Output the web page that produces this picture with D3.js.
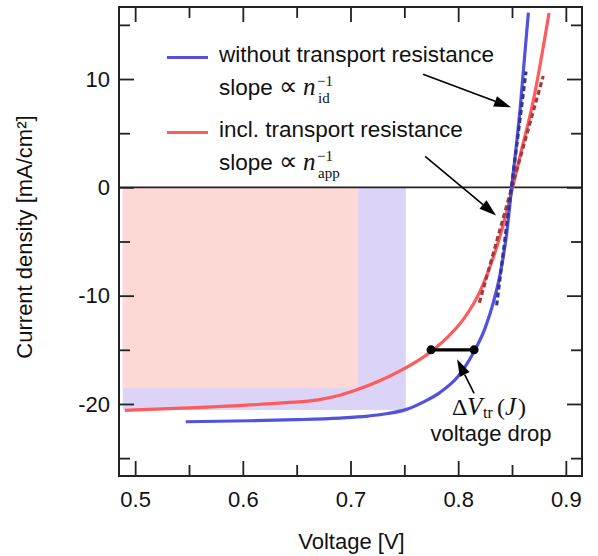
<!DOCTYPE html>
<html><head><meta charset="utf-8">
<script src="https://cdn.jsdelivr.net/npm/d3@7"></script>
<style>
html,body{margin:0;padding:0;background:#fff;}
text{font-family:"Liberation Sans",Arial,sans-serif;}
.math{font-family:"Liberation Serif","Times New Roman",serif;}
</style></head>
<body><svg id="chart" width="598" height="556"></svg>
<script>
// ---- data ----
const vMajorTicks = [0.5, 0.6, 0.7, 0.8, 0.9];
const vMinorTicks = [0.55, 0.65, 0.75, 0.85];
const jMajorTicks = [-20, -10, 0, 10];
const jMinorTicks = [-25, -15, -5, 5, 15];
const vTickLabels = ["0.5", "0.6", "0.7", "0.8", "0.9"];
const jTickLabels = ["-20", "-10", "0", "10"];

// J-V without transport resistance (V [V], J [mA/cm2])
const idealV = [0.547, 0.607, 0.650, 0.690, 0.716, 0.735, 0.752, 0.768, 0.783, 0.800, 0.814, 0.825, 0.833, 0.839, 0.845, 0.8497, 0.8575, 0.8652];
const idealJ = [-21.64, -21.55, -21.45, -21.3, -21.12, -20.88, -20.5, -19.8, -18.95, -17.45, -15.3, -13.0, -10.5, -8.0, -4.3, 0.0, 7.2, 16.13];
// J-V including transport resistance
const realV = [0.4904, 0.550, 0.600, 0.640, 0.670, 0.690, 0.707, 0.725, 0.746, 0.7755, 0.790, 0.8048, 0.8203, 0.8358, 0.845, 0.8506, 0.8575, 0.8698, 0.8844];
const realJ = [-20.59, -20.36, -20.13, -19.88, -19.62, -19.2, -18.65, -17.95, -16.95, -15.1, -13.85, -12.19, -9.6, -5.5, -2.3, 0.0, 2.9, 8.0, 16.1];
// slope guides at Voc (dotted)
const idealSlopeV = [0.8357, 0.863];
const idealSlopeJ = [-10.9, 10.7];
const realSlopeV = [0.8197, 0.879];
const realSlopeJ = [-10.65, 10.28];
// maximum power rectangles
const rectStartV = 0.4885;
const mppIdeal = [0.7514, -20.55];
const mppReal = [0.7071, -18.55];
// voltage drop at J = -15
const dropJ = -15;
const dropV = [0.7748, 0.8148];
// annotation arrows [tailV, tailJ, tipV, tipJ]
const arrow1 = [0.7674, 10.43, 0.8491, 7.39];
const arrow2 = [0.7693, 2.86, 0.8352, -2.59];
const arrow3 = [0.8148, -19.02, 0.7990, -15.88];
const legendLabels = ["without transport resistance", "incl. transport resistance"];
const legendSubs = ["id", "app"];

// ---- layout ----
const svg = d3.select("#chart");
const L = 119, R = 582, T = 7, B = 476;
const x = d3.scaleLinear().domain([0.485, 0.915]).range([L, R]);
const y = d3.scaleLinear().domain([-26.65, 16.65]).range([B, T]);
const blue = "#5252dc", red = "#ff5a5c";

svg.append("defs").append("clipPath").attr("id", "clip")
  .append("rect").attr("x", L).attr("y", T).attr("width", R - L).attr("height", B - T);

const plot = svg.append("g").attr("clip-path", "url(#clip)");

// power rectangles
plot.append("rect").attr("x", x(rectStartV)).attr("y", y(0))
  .attr("width", x(mppIdeal[0]) - x(rectStartV)).attr("height", y(mppIdeal[1]) - y(0))
  .attr("fill", "#dbd4f7");
plot.append("rect").attr("x", x(rectStartV)).attr("y", y(0))
  .attr("width", x(mppReal[0]) - x(rectStartV)).attr("height", y(mppReal[1]) - y(0))
  .attr("fill", "#fdd9d6");

// zero line
plot.append("line").attr("x1", L).attr("x2", R).attr("y1", y(0)).attr("y2", y(0))
  .attr("stroke", "#222").attr("stroke-width", 1.8);

const line = d3.line().x(d => x(d[0])).y(d => y(d[1])).curve(d3.curveMonotoneX);
const zip = (a, b) => a.map((v, i) => [v, b[i]]);

plot.append("path").datum(zip(realV, realJ)).attr("d", line)
  .attr("fill", "none").attr("stroke", red).attr("stroke-width", 3.2);
plot.append("path").datum(zip(idealV, idealJ)).attr("d", line)
  .attr("fill", "none").attr("stroke", blue).attr("stroke-width", 3.2);

const straight = d3.line().x(d => x(d[0])).y(d => y(d[1]));
plot.append("path").datum(zip(realSlopeV, realSlopeJ)).attr("d", straight)
  .attr("fill", "none").attr("stroke", "#a23a3e").attr("stroke-width", 3.2).attr("stroke-dasharray", "5,3");
plot.append("path").datum(zip(idealSlopeV, idealSlopeJ)).attr("d", straight)
  .attr("fill", "none").attr("stroke", "#343496").attr("stroke-width", 3.2).attr("stroke-dasharray", "5,3");

// voltage drop bar
svg.append("line").attr("x1", x(dropV[0])).attr("x2", x(dropV[1])).attr("y1", y(dropJ)).attr("y2", y(dropJ))
  .attr("stroke", "#000").attr("stroke-width", 3.2);
svg.selectAll("circle.drop").data(dropV).enter().append("circle")
  .attr("cx", d => x(d)).attr("cy", y(dropJ)).attr("r", 4.5).attr("fill", "#000");

// arrows
function arrow(a) {
  const x1 = x(a[0]), y1 = y(a[1]), x2 = x(a[2]), y2 = y(a[3]);
  const ang = Math.atan2(y2 - y1, x2 - x1);
  const hl = 17, hw = 5.5;
  const bx = x2 - hl * Math.cos(ang), by = y2 - hl * Math.sin(ang);
  svg.append("line").attr("x1", x1).attr("y1", y1).attr("x2", bx).attr("y2", by)
    .attr("stroke", "#000").attr("stroke-width", 1.6);
  const px = -Math.sin(ang) * hw, py = Math.cos(ang) * hw;
  svg.append("path")
    .attr("d", `M${x2},${y2}L${bx + px},${by + py}L${bx - px},${by - py}Z`)
    .attr("fill", "#000");
}
[arrow1, arrow2, arrow3].forEach(arrow);

// axes (inward ticks on all four sides)
function addAxis(gen, tr, vals, size, labels) {
  const a = gen.tickValues(vals).tickSizeInner(-size).tickSizeOuter(0);
  if (labels) a.tickFormat((d, i) => labels[i]); else a.tickFormat("");
  const g = svg.append("g").attr("transform", tr).call(a);
  g.select(".domain").remove();
  g.selectAll(".tick line").attr("stroke", "#222").attr("stroke-width", 1.8);
  g.selectAll(".tick text").attr("font-size", 22).attr("fill", "#111")
    .attr("font-family", "'Liberation Sans', Arial, sans-serif");
  if (!labels) g.selectAll(".tick text").remove();
  return g;
}
addAxis(d3.axisBottom(x).tickPadding(15.5), `translate(0,${B})`, vMajorTicks, 15, vTickLabels);
addAxis(d3.axisBottom(x), `translate(0,${B})`, vMinorTicks, 11, null);
addAxis(d3.axisTop(x), `translate(0,${T})`, vMajorTicks, 15, null);
addAxis(d3.axisTop(x), `translate(0,${T})`, vMinorTicks, 11, null);
addAxis(d3.axisLeft(y).tickPadding(9), `translate(${L},0)`, jMajorTicks, 15, jTickLabels);
addAxis(d3.axisLeft(y), `translate(${L},0)`, jMinorTicks, 11, null);
addAxis(d3.axisRight(y), `translate(${R},0)`, jMajorTicks, 15, null);
addAxis(d3.axisRight(y), `translate(${R},0)`, jMinorTicks, 11, null);

svg.append("rect").attr("x", L).attr("y", T).attr("width", R - L).attr("height", B - T)
  .attr("fill", "none").attr("stroke", "#222").attr("stroke-width", 2);

// axis titles
svg.append("text").attr("x", (L + R) / 2 + 1).attr("y", 549).attr("text-anchor", "middle")
  .attr("font-size", 22).attr("fill", "#111").text("Voltage [V]");
svg.append("text").attr("transform", "translate(32,237) rotate(-90)").attr("text-anchor", "middle")
  .attr("font-size", 22).attr("fill", "#111").text("Current density [mA/cm²]");

// legend
legendLabels.forEach((lab, i) => {
  const by = 62 + i * 75;
  svg.append("line").attr("x1", 167).attr("x2", 208).attr("y1", by - 4.5).attr("y2", by - 4.5)
    .attr("stroke", i === 0 ? blue : red).attr("stroke-width", 3.2);
  svg.append("text").attr("x", 219).attr("y", by).attr("font-size", 22.5).attr("fill", "#111").text(lab);
  const sy = by + 33;
  svg.append("text").attr("x", 219).attr("y", sy).attr("font-size", 22.5).attr("fill", "#111").text("slope");
  const m = svg.append("text").attr("class", "math").attr("x", 279).attr("y", sy).attr("fill", "#111");
  m.append("tspan").attr("font-size", 26).text("∝");
  m.append("tspan").attr("x", 303).attr("font-size", 25).attr("font-style", "italic").text("n");
  m.append("tspan").attr("x", 317).attr("dy", -9).attr("font-size", 15).text("−1");
  m.append("tspan").attr("x", 318).attr("dy", 17).attr("font-size", 15).text(legendSubs[i]);
});

// voltage drop label
const dv = svg.append("text").attr("class", "math").attr("x", 452).attr("y", 415).attr("fill", "#111");
dv.append("tspan").attr("font-size", 24).text("Δ");
dv.append("tspan").attr("x", 467).attr("font-size", 25).attr("font-style", "italic").text("V");
dv.append("tspan").attr("x", 483).attr("dy", 3).attr("font-size", 16).text("tr");
dv.append("tspan").attr("x", 497).attr("dy", -3).attr("font-size", 24).text("(");
dv.append("tspan").attr("x", 505).attr("font-size", 25).attr("font-style", "italic").text("J");
dv.append("tspan").attr("x", 518).attr("font-size", 24).text(")");
svg.append("text").attr("x", 491).attr("y", 441).attr("text-anchor", "middle")
  .attr("font-size", 22).attr("fill", "#111").text("voltage drop");
</script></body></html>
